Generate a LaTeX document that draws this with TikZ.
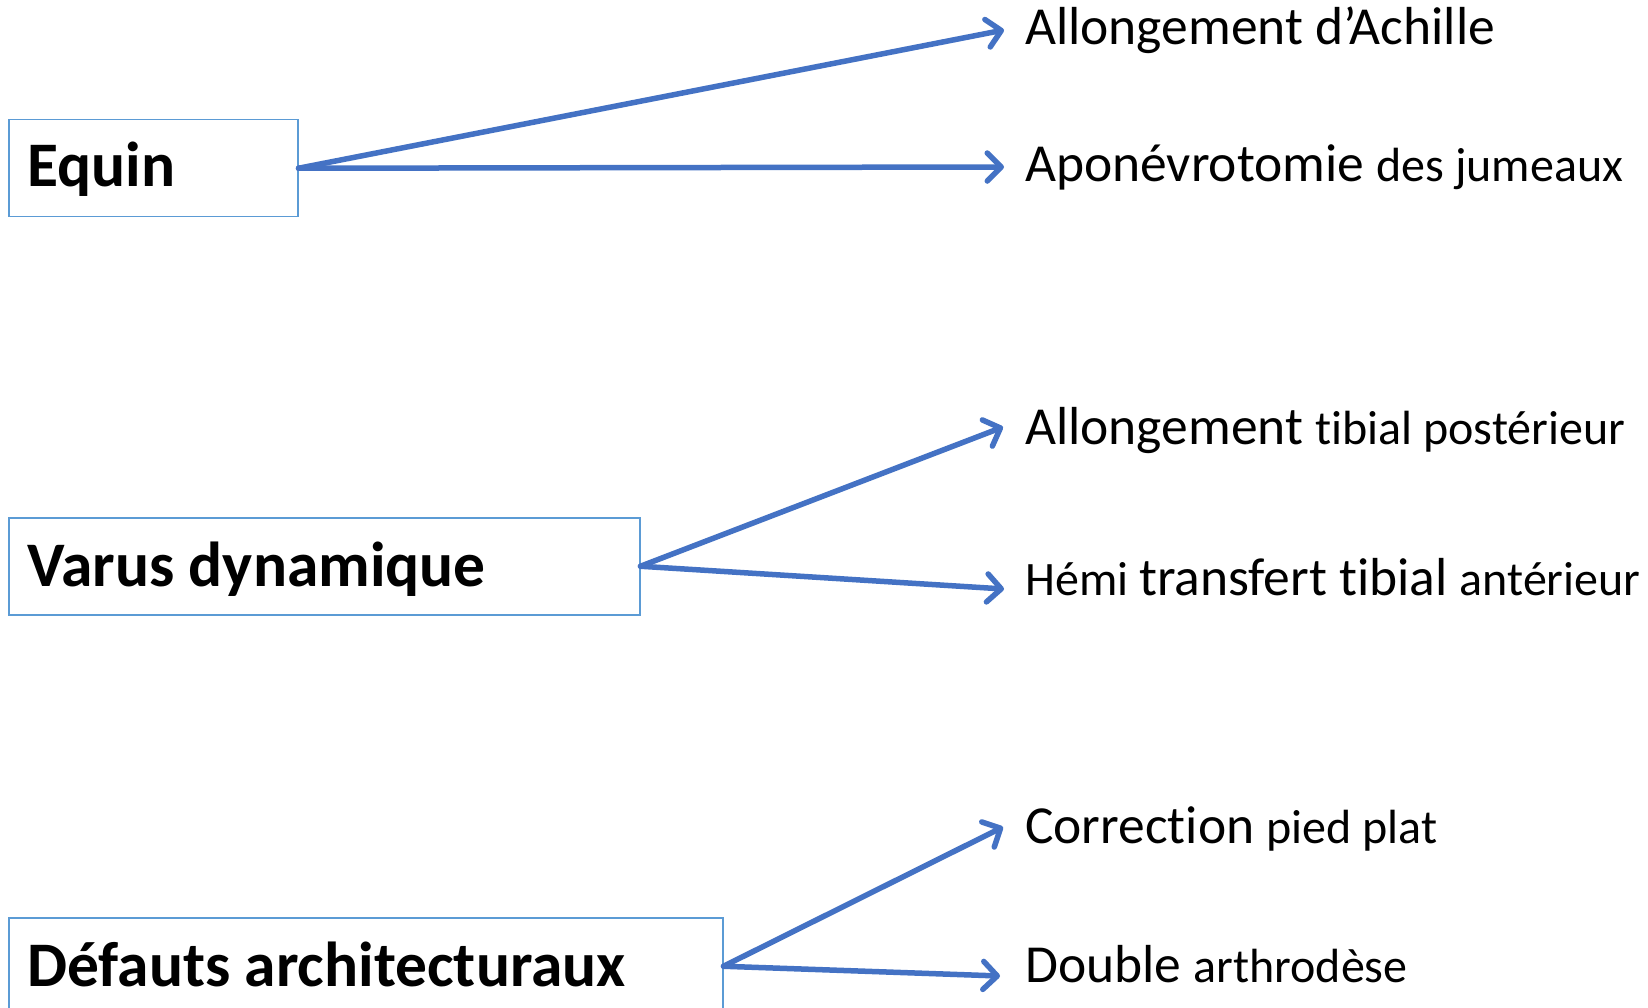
\documentclass[tikz,border=0pt]{standalone}
\usepackage{fontspec}
\setmainfont{Carlito}[Ligatures={NoCommon}]
\usetikzlibrary{arrows.meta}
\definecolor{arrowblue}{HTML}{4472C4}
\definecolor{boxblue}{HTML}{5B9BD5}
\newcommand{\bigtxt}{\fontsize{53.5}{60}\selectfont}
\newcommand{\smltxt}{\fontsize{48}{54}\selectfont}
\begin{document}
\begin{tikzpicture}[x=1pt,y=-1pt,
  headbox/.style={draw=boxblue,line width=1.5pt,fill=white,anchor=north west,minimum height=97pt,inner sep=0pt,minimum width=#1},
  headtext/.style={anchor=base west,inner sep=0pt,font=\fontsize{63.5}{70}\selectfont\bfseries},
  label/.style={anchor=base west,inner sep=0pt},
  conn/.style={draw=arrowblue,line width=5.5pt,line cap=round,line join=round,-{Straight Barb[length=14pt,width=28pt,line cap=round,line join=round]}}
]
\useasboundingbox (0,0) rectangle (1648,1008);
\fill[white] (0,0) rectangle (1648,1008);
% boxes
\node[headbox=289pt] (equin) at (8,119) {};
\node[headbox=631pt] (varus) at (8,517) {};
\node[headbox=714pt] (defauts) at (8,917) {};
\node[headtext] (equint) at (27,187) {Equin};
\node[headtext] (varust) at (27,586) {Varus dynamique};
\node[headtext] (defautst) at (27,986) {Défauts architecturaux};
% labels
\node[label] (l1) at (1025,45) {\bigtxt Allongement d’Achille};
\node[label] (l2) at (1025,182) {\bigtxt Aponévrotomie \smltxt des jumeaux};
\node[label] (l3) at (1025,444) {\bigtxt Allongement \smltxt tibial postérieur};
\node[label] (l4) at (1025,595) {\smltxt Hémi \bigtxt transfert tibial \smltxt antérieur};
\node[label] (l5) at (1025,843) {\bigtxt Correction \smltxt pied plat};
\node[label] (l6) at (1025,982) {\bigtxt Double \smltxt arthrodèse};
% arrow tips
\coordinate (t1) at (1004,30);
\coordinate (t2) at (1004,167);
\coordinate (t3) at (1003,427);
\coordinate (t4) at (1004,589);
\coordinate (t5) at (1003,827);
\coordinate (t6) at (1000,976);
\draw[conn] (equin.east) -- (t1);
\draw[conn] (equin.east) -- (t2);
\draw[conn] (varus.east) -- (t3);
\draw[conn] (varus.east) -- (t4);
\draw[conn] (defauts.east) -- (t5);
\draw[conn] (defauts.east) -- (t6);
\end{tikzpicture}
\end{document}
